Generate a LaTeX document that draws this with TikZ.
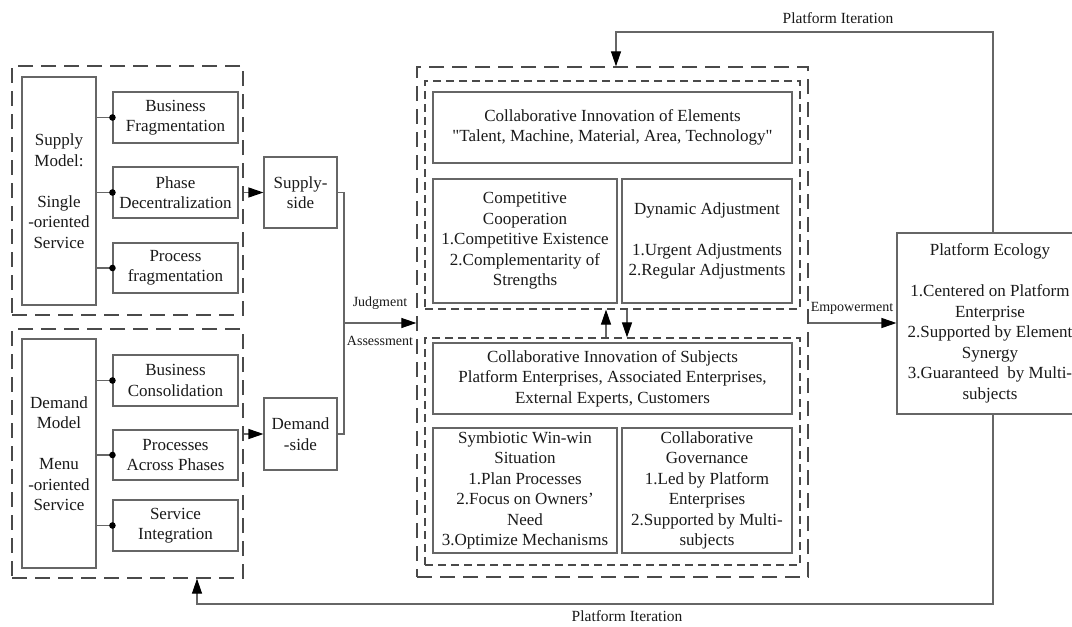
\documentclass[tikz,border=0pt]{standalone}
\usepackage{fontspec}
\setmainfont{Liberation Serif}
\usetikzlibrary{arrows.meta,calc}
\definecolor{boxgray}{HTML}{666666}
\definecolor{dashgray}{HTML}{4a4a4a}
\definecolor{txt}{HTML}{1a1a1a}
\begin{document}
\begin{tikzpicture}[x=1pt,y=-1pt,
  box/.style={draw=boxgray,line width=1.1pt,inner sep=0pt,align=center,text=txt,
    font=\fontsize{17}{20.5}\selectfont},
  longdash/.style={draw=dashgray,line width=1.3pt,dash pattern=on 15pt off 8pt,inner sep=0pt},
  shortdash/.style={draw=dashgray,line width=1.2pt,dash pattern=on 8pt off 5pt,inner sep=0pt},
  conn/.style={draw=boxgray,line width=1.1pt},
  arr/.style={draw=boxgray,line width=1.1pt,-{Triangle[length=15pt,width=10pt,color=black]}},
  lbl/.style={text=txt,inner sep=0pt,font=\fontsize{14}{16}\selectfont},
  dot/.style={fill=black}
]
\clip (0,0) rectangle (1072,627);
\fill[white] (0,0) rectangle (1072,627);

% ---------- Supply side ----------
\node[longdash,minimum width=231,minimum height=249] (supdash) at (127.5,190.5) {};
\node[box,minimum width=74,minimum height=228] (supmodel) at (59,191) {Supply\\Model:\\[20.5pt]Single\\-oriented\\Service};
\node[box,minimum width=125,minimum height=51] (bf) at (175.5,117.5) {Business\\Fragmentation};
\node[box,minimum width=125,minimum height=51] (pd) at (175.5,192.5) {Phase\\Decentralization};
\node[box,minimum width=125,minimum height=50] (pf) at (175.5,268) {Process\\fragmentation};
\node[box,minimum width=73,minimum height=71] (supside) at (300.5,192.5) {Supply-\\side};

\foreach \b in {bf,pd,pf}{
  \draw[conn] (supmodel.east |- \b.west) -- (\b.west);
  \fill[dot] (\b.west) circle (3.3);
}
\draw[arr] (supdash.east |- supside.west) -- (supside.west);

% ---------- Demand side ----------
\node[longdash,minimum width=231,minimum height=249] (demdash) at (127.5,453.5) {};
\node[box,minimum width=74,minimum height=229] (demmodel) at (59,453.5) {Demand\\Model\\[20.5pt]Menu\\-oriented\\Service};
\node[box,minimum width=125,minimum height=51] (bc) at (175.5,380.5) {Business\\Consolidation};
\node[box,minimum width=125,minimum height=50] (pap) at (175.5,455) {Processes\\Across Phases};
\node[box,minimum width=125,minimum height=51] (si) at (175.5,525.5) {Service\\Integration};
\node[box,minimum width=73,minimum height=72] (demside) at (300.5,434) {Demand\\-side};

\foreach \b in {bc,pap,si}{
  \draw[conn] (demmodel.east |- \b.west) -- (\b.west);
  \fill[dot] (\b.west) circle (3.3);
}
\draw[arr] (demdash.east |- demside.west) -- (demside.west);

% ---------- Centre ----------
\node[longdash,minimum width=391,minimum height=510] (outer) at (612.5,322) {};
\node[shortdash,minimum width=375,minimum height=228] (innerU) at (612.5,195) {};
\node[shortdash,minimum width=375,minimum height=227] (innerL) at (612.5,451.5) {};

\node[box,minimum width=359,minimum height=71] (elem) at (612.5,127.5)
  {Collaborative Innovation of Elements\\\textquotedbl Talent, Machine, Material, Area, Technology\textquotedbl};
\node[box,minimum width=184,minimum height=124] (cc) at (525,241)
  {Competitive\\Cooperation\\1.Competitive Existence\\2.Complementarity of\\Strengths};
\node[box,minimum width=170,minimum height=124] (da) at (707,241)
  {Dynamic Adjustment\\[20.5pt]1.Urgent Adjustments\\2.Regular Adjustments};

\node[box,minimum width=359,minimum height=71] (subj) at (612.5,378.5)
  {Collaborative Innovation of Subjects\\Platform Enterprises, Associated Enterprises,\\External Experts, Customers};
\node[box,minimum width=184,minimum height=125] (sw) at (525,490.5)
  {Symbiotic Win-win\\Situation\\1.Plan Processes\\2.Focus on Owners’\\Need\\3.Optimize Mechanisms};
\node[box,minimum width=170,minimum height=125] (cg) at (707,490.5)
  {Collaborative\\Governance\\1.Led by Platform\\Enterprises\\2.Supported by Multi-\\subjects};

\coordinate (ua) at (606,0);
\coordinate (da0) at (627,0);
\draw[arr] (innerL.north -| ua) -- (innerU.south -| ua);
\draw[arr] (innerU.south -| da0) -- (innerL.north -| da0);

% ---------- Judgment / Assessment ----------
\coordinate (jx) at (344,0);
\coordinate (jy) at (0,323);
\draw[conn] (supside.east) -- (supside.east -| jx) -- (jx |- jy);
\draw[conn] (demside.east) -- (demside.east -| jx) -- (jx |- jy);
\draw[arr] (jx |- jy) -- (outer.west |- jy);
\node[lbl] (judg) at (380,303) {Judgment};
\node[lbl] (assess) at (380,341) {Assessment};

% ---------- Platform ecology ----------
\node[box,minimum width=186,minimum height=181] (pe) at (990,323.5)
  {Platform Ecology\\[20.5pt]1.Centered on Platform\\Enterprise\\2.Supported by Element\\Synergy\\3.Guaranteed\ \ by Multi-\\subjects};
\draw[arr] (outer.east |- jy) -- (pe.west |- jy);
\node[lbl] (emp) at (852,308) {Empowerment};

% ---------- Platform iteration loops ----------
\coordinate (px) at (993,0);
\coordinate (topy) at (0,32);
\coordinate (boty) at (0,604);
\coordinate (tx) at (616,0);
\coordinate (bx) at (197,0);
\draw[arr] (pe.north -| px) -- (px |- topy) -- (tx |- topy) -- (outer.north -| tx);
\draw[arr] (pe.south -| px) -- (px |- boty) -- (bx |- boty) -- (demdash.south -| bx);
\node[lbl,font=\fontsize{15.5}{18}\selectfont] (pit) at (838,18) {Platform Iteration};
\node[lbl,font=\fontsize{15.5}{18}\selectfont] (pib) at (627,616) {Platform Iteration};
\end{tikzpicture}
\end{document}
